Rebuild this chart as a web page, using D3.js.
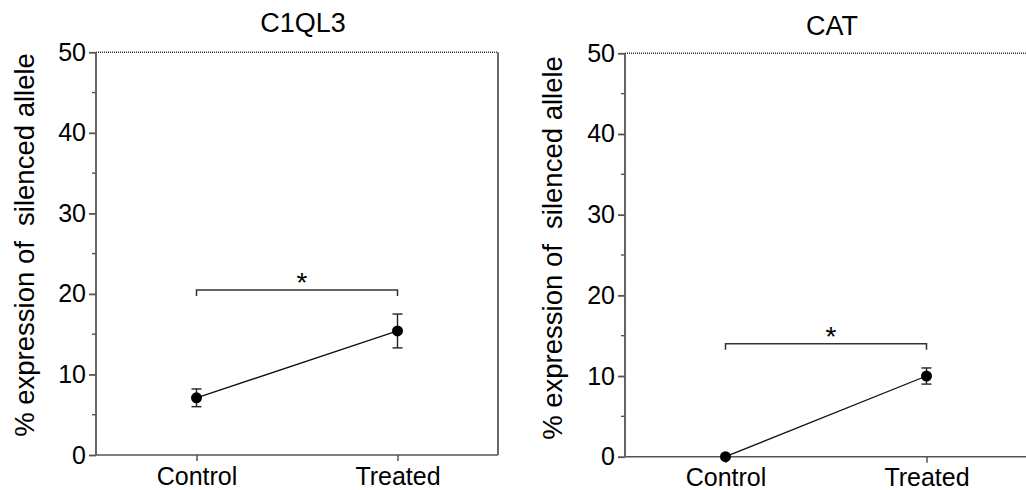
<!DOCTYPE html>
<html>
<head>
<meta charset="utf-8">
<script src="https://cdn.jsdelivr.net/npm/d3@7"></script>
<style>
  body { margin: 0; background: #fff; }
  svg { display: block; font-family: "Liberation Sans", Arial, Helvetica, sans-serif; }
</style>
</head>
<body>
<div id="chart"></div>
<script>
// data
var categories = ["Control", "Treated"];
var yTicks = [0, 10, 20, 30, 40, 50];
var yMinorTicks = [5, 15, 25, 35, 45];
var yLabel = "% expression of  silenced allele";

var c1ql3Mean = [7.1, 15.4];
var c1ql3Err = [1.1, 2.1];
var c1ql3Sig = 20.5;

var catMean = [0, 10.0];
var catErr = [0, 1.0];
var catSig = 14.0;

var panels = [
  { title: "C1QL3", mean: c1ql3Mean, err: c1ql3Err, sig: c1ql3Sig,
    left: 96, top: 52.3, bottom: 455, titleY: 32, labelX: 34, labelY: 245 },
  { title: "CAT", mean: catMean, err: catErr, sig: catSig,
    left: 625, top: 53.3, bottom: 456.7, titleY: 35, labelX: 562, labelY: 248 }
];

var plotWidth = 402;

var svg = d3.select("#chart").append("svg")
  .attr("width", 1026)
  .attr("height", 490);

panels.forEach(drawPanel);

function drawPanel(p) {
  var g = svg.append("g").attr("transform", "translate(" + p.left + ",0)");

  var x = d3.scalePoint()
    .domain(categories)
    .range([0, plotWidth])
    .padding(0.5);

  var y = d3.scaleLinear()
    .domain([0, 50])
    .range([p.bottom, p.top]);

  // top frame line (dotted) and right frame
  g.append("line")
    .attr("x1", 0).attr("x2", plotWidth)
    .attr("y1", y(50)).attr("y2", y(50))
    .attr("stroke", "#333").attr("stroke-width", 1.4)
    .attr("stroke-dasharray", "1,1");
  g.append("line")
    .attr("x1", plotWidth).attr("x2", plotWidth)
    .attr("y1", y(50)).attr("y2", y(0))
    .attr("stroke", "#444").attr("stroke-width", 1.6);

  // Y axis
  var yAxis = g.append("g")
    .call(d3.axisLeft(y).tickValues(yTicks).tickSize(7).tickPadding(3));
  yAxis.selectAll("text")
    .style("font-size", "25px")
    .style("fill", "#000");
  yAxis.selectAll("line, path").attr("stroke", "#555").attr("stroke-width", 1.8);
  yAxis.select(".domain").attr("d", "M0," + y(50) + "V" + y(0));

  // minor ticks
  g.append("g").selectAll("line")
    .data(yMinorTicks)
    .enter().append("line")
    .attr("x1", -4).attr("x2", 0)
    .attr("y1", d => y(d)).attr("y2", d => y(d))
    .attr("stroke", "#555").attr("stroke-width", 1.4);

  // X axis
  var xAxis = g.append("g")
    .attr("transform", "translate(0," + y(0) + ")")
    .call(d3.axisBottom(x).tickSize(6).tickPadding(6));
  xAxis.selectAll("text")
    .style("font-size", "25px")
    .style("fill", "#000");
  xAxis.selectAll("line").attr("stroke", "#555").attr("stroke-width", 1.5);
  xAxis.select(".domain")
    .attr("d", "M0,0H" + plotWidth)
    .attr("stroke", "#555").attr("stroke-width", 1.6);

  // title
  svg.append("text")
    .attr("x", p.left + plotWidth / 2 + 6)
    .attr("y", p.titleY)
    .attr("text-anchor", "middle")
    .style("font-size", "27px")
    .style("fill", "#000")
    .text(p.title);

  // y label
  svg.append("text")
    .attr("transform", "translate(" + p.labelX + "," + p.labelY + ") rotate(-90)")
    .attr("text-anchor", "middle")
    .style("font-size", "27.5px")
    .style("white-space", "pre")
    .style("fill", "#000")
    .text(yLabel);

  var pts = categories.map((c, i) => ({ cat: c, mean: p.mean[i], err: p.err[i] }));

  // connecting line
  g.append("path")
    .datum(pts)
    .attr("fill", "none")
    .attr("stroke", "#111")
    .attr("stroke-width", 1.3)
    .attr("d", d3.line().x(d => x(d.cat)).y(d => y(d.mean)));

  // error bars
  var eb = g.append("g").selectAll("g")
    .data(pts.filter(d => d.err > 0))
    .enter().append("g")
    .attr("stroke", "#222").attr("stroke-width", 1.4);
  eb.append("line")
    .attr("x1", d => x(d.cat)).attr("x2", d => x(d.cat))
    .attr("y1", d => y(d.mean - d.err)).attr("y2", d => y(d.mean + d.err));
  eb.append("line")
    .attr("x1", d => x(d.cat) - 5).attr("x2", d => x(d.cat) + 5)
    .attr("y1", d => y(d.mean + d.err)).attr("y2", d => y(d.mean + d.err));
  eb.append("line")
    .attr("x1", d => x(d.cat) - 5).attr("x2", d => x(d.cat) + 5)
    .attr("y1", d => y(d.mean - d.err)).attr("y2", d => y(d.mean - d.err));

  // points
  g.append("g").selectAll("circle")
    .data(pts)
    .enter().append("circle")
    .attr("cx", d => x(d.cat))
    .attr("cy", d => y(d.mean))
    .attr("r", 5.5)
    .attr("fill", "#000");

  // significance bracket
  var x0 = x(categories[0]), x1 = x(categories[1]);
  g.append("path")
    .attr("fill", "none")
    .attr("stroke", "#333")
    .attr("stroke-width", 1.5)
    .attr("d", "M" + x0 + "," + (y(p.sig) + 6) + "V" + y(p.sig) + "H" + x1 + "V" + (y(p.sig) + 6));
  g.append("text")
    .attr("x", (x0 + x1) / 2 + 5)
    .attr("y", y(p.sig) + 2)
    .attr("text-anchor", "middle")
    .style("font-size", "28px")
    .style("fill", "#000")
    .text("*");
}
</script>
</body>
</html>
